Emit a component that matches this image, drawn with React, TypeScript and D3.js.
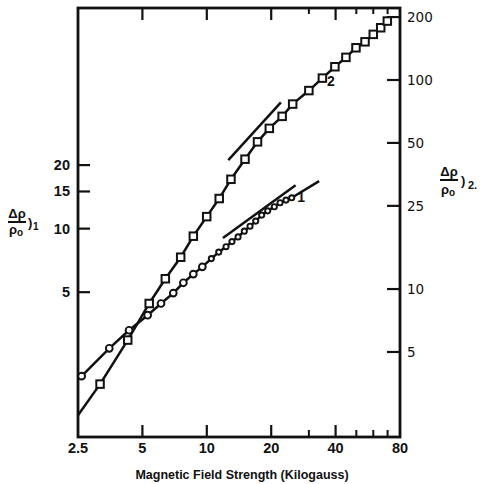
import React from "react";
import * as d3 from "d3";

// Magnetic field strength (kG) and magnetoresistance for sample 1 (left axis)
const field1 = [2.6, 3.5, 4.33, 5.29, 6.11, 6.97, 7.77, 8.65, 9.53, 10.5, 11.37, 12.3, 13.11, 14.0, 14.97, 15.92, 16.93, 18.05, 19.26, 20.68, 22.0, 23.45, 24.94];
const rho1 = [2.0, 2.71, 3.3, 3.89, 4.42, 4.95, 5.54, 6.09, 6.59, 7.21, 7.74, 8.21, 8.68, 9.14, 9.73, 10.27, 10.86, 11.59, 12.14, 12.7, 13.26, 13.65, 14.0];

// Sample 2 (right axis)
const field2 = [3.17, 4.27, 5.38, 6.4, 7.55, 8.65, 9.99, 11.43, 12.97, 15.09, 17.26, 19.6, 22.5, 25.2, 30, 34.7, 39.7, 44.7, 49.8, 54.9, 60, 65, 69.8];
const rho2 = [3.51, 5.7, 8.53, 11.2, 14.2, 17.9, 22.2, 27.1, 33.5, 41.8, 50.6, 58.7, 67.0, 76.7, 89.0, 102.1, 115.7, 128.3, 142.6, 152.3, 165.3, 177.8, 191.4];

// Straight-line guides: [field, value] endpoints
const curve2LowExtension: [number, number][] = [[2.5, 2.49], [3.17, 3.51]];
const curve2Tangent: [number, number][] = [[12.6, 41.4], [22.2, 78.1]];
const curve1Tangent: [number, number][] = [[11.9, 9.04], [26.0, 16.07]];
const curve1Extension: [number, number][] = [[24.94, 14.0], [33.5, 16.8]];

// Axis ticks
const xMajorTicks = [2.5, 5, 10, 20, 40, 80];
const xMajorLabels = ["2.5", "5", "10", "20", "40", "80"];
const xMinorTicks = [30, 50, 60, 70];
const y1Ticks = [5, 10, 15, 20];
const y2Ticks = [5, 10, 25, 50, 100, 200];

const W = 482;
const H = 484;
const left = 78;
const right = 400;
const top = 8;
const bottom = 437;

export default function App() {
  const x = d3.scaleLog().domain([2.5, 80]).range([left, right]);
  const y1 = d3.scaleLog().domain([1.03, 111]).range([bottom, top]);
  const y2 = d3.scaleLog().domain([1.96, 221]).range([bottom, top]);

  const line1 = d3.line<[number, number]>().x((d) => x(d[0])).y((d) => y1(d[1]));
  const line2 = d3.line<[number, number]>().x((d) => x(d[0])).y((d) => y2(d[1]));

  const pts1: [number, number][] = field1.map((f, i) => [f, rho1[i]]);
  const pts2: [number, number][] = field2.map((f, i) => [f, rho2[i]]);

  const stroke = "#111";
  const boldFont = "'Liberation Sans', Arial, sans-serif";
  const sq = 7.5;

  return (
    <svg
      width={W}
      height={H}
      style={{ position: "absolute", left: 0, top: 0, background: "#fff" }}
    >
      <rect x={0} y={0} width={W} height={H} fill="#fff" />

      {/* frame */}
      <rect
        x={left}
        y={top}
        width={right - left}
        height={bottom - top}
        fill="none"
        stroke={stroke}
        strokeWidth={2.8}
      />

      {/* bottom and top ticks */}
      {xMajorTicks.slice(1, -1).map((t) => (
        <g key={"xm" + t}>
          <line x1={x(t)} x2={x(t)} y1={bottom} y2={bottom - 12} stroke={stroke} strokeWidth={2.2} />
          <line x1={x(t)} x2={x(t)} y1={top} y2={top + 12} stroke={stroke} strokeWidth={2.2} />
        </g>
      ))}
      {xMinorTicks.map((t) => (
        <g key={"xn" + t}>
          <line x1={x(t)} x2={x(t)} y1={bottom} y2={bottom - 7} stroke={stroke} strokeWidth={2} />
          <line x1={x(t)} x2={x(t)} y1={top} y2={top + 6} stroke={stroke} strokeWidth={2} />
        </g>
      ))}
      {xMajorTicks.map((t, i) => (
        <text
          key={"xl" + t}
          x={x(t)}
          y={453}
          textAnchor="middle"
          fontFamily={boldFont}
          fontWeight="bold"
          fontSize={14.5}
          fill={stroke}
        >
          {xMajorLabels[i]}
        </text>
      ))}
      <text
        x={242}
        y={479}
        textAnchor="middle"
        fontFamily={boldFont}
        fontWeight="bold"
        fontSize={12.5}
        fill={stroke}
      >
        Magnetic Field Strength (Kilogauss)
      </text>

      {/* left axis */}
      {y1Ticks.map((t) => (
        <g key={"y1" + t}>
          <line x1={left} x2={left + 12} y1={y1(t)} y2={y1(t)} stroke={stroke} strokeWidth={2.2} />
          <text
            x={70}
            y={y1(t) + 5}
            textAnchor="end"
            fontFamily={boldFont}
            fontWeight="bold"
            fontSize={14.5}
            fill={stroke}
          >
            {t}
          </text>
        </g>
      ))}

      {/* right axis */}
      {y2Ticks.map((t) => (
        <g key={"y2" + t}>
          <line x1={right - 13} x2={right} y1={y2(t)} y2={y2(t)} stroke={stroke} strokeWidth={2.2} />
          <text
            x={407}
            y={y2(t) + 5}
            textAnchor="start"
            fontFamily="'DejaVu Sans', sans-serif"
            fontSize={13.5}
            fill={stroke}
          >
            {t}
          </text>
        </g>
      ))}

      {/* left axis title */}
      <g fontFamily={boldFont} fontWeight="bold" fill={stroke}>
        <text x={17} y={218} textAnchor="middle" fontSize={13}>Δρ</text>
        <line x1={8} x2={26} y1={222} y2={222} stroke={stroke} strokeWidth={2} />
        <text x={16} y={234} textAnchor="middle" fontSize={13}>
          ρ<tspan fontSize={10} dy={2}>o</tspan>
        </text>
        <text x={28} y={227} fontSize={13}>)</text>
        <text x={33} y={230} fontSize={10}>1</text>
      </g>

      {/* right axis title */}
      <g fontFamily={boldFont} fontWeight="bold" fill={stroke}>
        <text x={449} y={176} textAnchor="middle" fontSize={13}>Δρ</text>
        <line x1={440} x2={458} y1={180} y2={180} stroke={stroke} strokeWidth={2} />
        <text x={448} y={194} textAnchor="middle" fontSize={13}>
          ρ<tspan fontSize={10} dy={2}>o</tspan>
        </text>
        <text x={461} y={185} fontSize={13}>)</text>
        <text x={468} y={189} fontSize={11}>2.</text>
      </g>

      {/* guide lines */}
      <g fill="none" stroke={stroke} strokeWidth={2.5}>
        <path d={line2(curve2LowExtension) || ""} />
        <path d={line2(curve2Tangent) || ""} />
        <path d={line1(curve1Tangent) || ""} />
        <path d={line1(curve1Extension) || ""} />
      </g>

      {/* data polylines */}
      <path d={line1(pts1) || ""} fill="none" stroke={stroke} strokeWidth={2.5} />
      <path d={line2(pts2) || ""} fill="none" stroke={stroke} strokeWidth={2.5} />

      {/* markers */}
      {pts1.map((d, i) => (
        <circle
          key={"c" + i}
          cx={x(d[0])}
          cy={y1(d[1])}
          r={d[0] > 10 ? 2.6 : 3.4}
          fill="#fff"
          stroke={stroke}
          strokeWidth={1.9}
        />
      ))}
      {pts2.map((d, i) => (
        <rect
          key={"s" + i}
          x={x(d[0]) - sq / 2}
          y={y2(d[1]) - sq / 2}
          width={sq}
          height={sq}
          fill="#fff"
          stroke={stroke}
          strokeWidth={2}
        />
      ))}

      {/* curve labels */}
      <text x={x(26.5)} y={y1(13.3)} fontFamily={boldFont} fontWeight="bold" fontSize={14} fill={stroke}>
        1
      </text>
      <text x={x(36.5)} y={y2(94)} fontFamily={boldFont} fontWeight="bold" fontSize={14} fill={stroke}>
        2
      </text>
    </svg>
  );
}
